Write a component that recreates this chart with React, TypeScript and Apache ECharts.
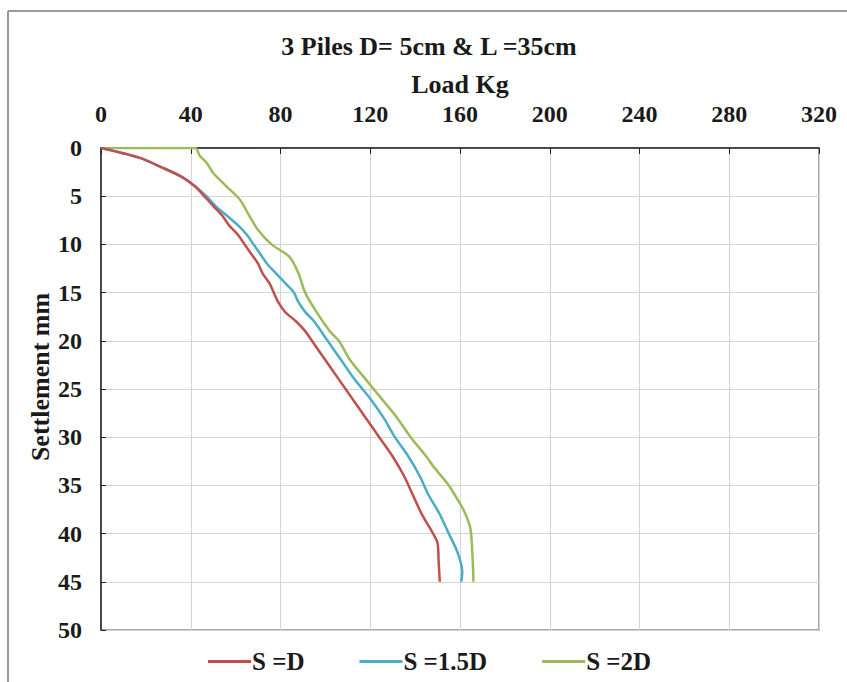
import React, { useEffect, useRef } from "react";
import * as echarts from "echarts";

const title = "3 Piles D= 5cm & L =35cm";
const xName = "Load Kg";
const yName = "Settlement mm";
const seriesNames = ["S =D", "S =1.5D", "S =2D"];
const colors = ["#c0504d", "#4bacc6", "#9bbb59"];

const loadD = [0, 17, 27, 36, 42, 46, 50, 54, 57, 61, 64, 67, 70, 72, 75, 77, 79, 82, 87, 91, 94, 100, 106, 112, 118, 124, 130, 135, 139, 143, 148, 150, 150.5, 151];
const settD = [0, 1, 2, 3, 4, 5, 6, 7, 8, 9, 10, 11, 12, 13, 14, 15, 16, 17, 18, 19, 20, 22, 24, 26, 28, 30, 32, 34, 36, 38, 40, 41, 43, 45];

const load15D = [0, 17, 27, 36, 42, 47, 51, 56, 61, 65, 68, 71, 74, 78, 82, 86, 88, 91, 95, 101, 107, 113, 120, 126, 131, 137, 142, 146, 151, 155, 159, 161, 160.5];
const sett15D = [0, 1, 2, 3, 4, 5, 6, 7, 8, 9, 10, 11, 12, 13, 14, 15, 16, 17, 18, 20, 22, 24, 26, 28, 30, 32, 34, 36, 38, 40, 42, 44, 45];

const load2D = [0, 42, 44, 47, 50, 56, 62, 66, 70, 76, 84, 88, 91, 96, 102, 106, 111, 118, 125, 132, 138, 145, 148, 155, 159, 161.5, 164.5, 165.5, 166];
const sett2D = [0, 0, 0.8, 1.5, 2.6, 4, 5.4, 7, 8.5, 10, 11.3, 13, 15, 17, 19, 20, 22, 24, 26, 28, 30, 32, 33, 35, 36.5, 37.5, 39.3, 42, 45];

const pairs = (xs: number[], ys: number[]) => xs.map((x, i) => [x, ys[i]]);

export default function App() {
  const ref = useRef<HTMLDivElement>(null);
  useEffect(() => {
    if (!ref.current) return;
    const chart = echarts.init(ref.current, undefined, { renderer: "svg" });
    const font = "'Liberation Serif', 'Times New Roman', serif";
    const datasets = [pairs(loadD, settD), pairs(load15D, sett15D), pairs(load2D, sett2D)];
    chart.setOption({
      animation: false,
      backgroundColor: "#ffffff",
      title: {
        text: title,
        left: 424,
        textAlign: "center",
        top: 28,
        textStyle: { fontFamily: font, fontWeight: "bold", fontSize: 26, color: "#1a1a1a" },
      },
      graphic: [
        { type: "line", shape: { x1: 8, y1: 11, x2: 847, y2: 11 }, style: { stroke: "#9a9a9a", lineWidth: 2 } },
        { type: "line", shape: { x1: 8, y1: 11, x2: 8, y2: 682 }, style: { stroke: "#9a9a9a", lineWidth: 2 } },
        {
          type: "text",
          x: 40,
          y: 377,
          rotation: Math.PI / 2,
          style: {
            text: yName,
            fontFamily: font,
            fontWeight: "bold",
            fontSize: 26,
            fill: "#1a1a1a",
            align: "center",
            verticalAlign: "middle",
          },
        },
      ],
      grid: {
        left: 101,
        right: 28,
        top: 148,
        bottom: 52,
        show: true,
        borderColor: "#8a8a8a",
        borderWidth: 1.5,
      },
      legend: {
        data: seriesNames,
        top: 644,
        left: 203,
        itemWidth: 43,
        itemHeight: 3,
        icon: "rect",
        itemGap: 55,
        textStyle: { fontFamily: font, fontWeight: "bold", fontSize: 25, color: "#1a1a1a", padding: [0, 0, 0, -4] },
      },
      xAxis: {
        type: "value",
        position: "top",
        min: 0,
        max: 320,
        interval: 40,
        name: xName,
        nameLocation: "middle",
        nameGap: 40,
        nameTextStyle: { fontFamily: font, fontWeight: "bold", fontSize: 26, color: "#1a1a1a" },
        axisLine: { show: true, lineStyle: { color: "#222", width: 1.5 } },
        axisTick: { show: true, inside: true, length: 6, lineStyle: { color: "#222" } },
        axisLabel: { fontFamily: font, fontWeight: "bold", fontSize: 24, color: "#1a1a1a", margin: 22 },
        splitLine: { show: true, lineStyle: { color: "#d4d4d4", width: 1 } },
      },
      yAxis: {
        type: "value",
        inverse: true,
        min: 0,
        max: 50,
        interval: 5,
        axisLine: { show: true, lineStyle: { color: "#222", width: 1.5 } },
        axisTick: { show: true, inside: true, length: 5, lineStyle: { color: "#222" } },
        axisLabel: { fontFamily: font, fontWeight: "bold", fontSize: 24, color: "#1a1a1a", margin: 19 },
        splitLine: { show: true, lineStyle: { color: "#d4d4d4", width: 1 } },
      },
      series: seriesNames.map((name, i) => ({
        name,
        type: "line",
        data: datasets[i],
        showSymbol: false,
        symbol: "none",
        smooth: 0.3,
        lineStyle: { color: colors[i], width: 2.5 },
        itemStyle: { color: colors[i] },
        z: 3 - i,
      })),
    });
    return () => chart.dispose();
  }, []);
  return <div ref={ref} style={{ position: "fixed", left: 0, top: 0, width: 847, height: 682 }} />;
}
